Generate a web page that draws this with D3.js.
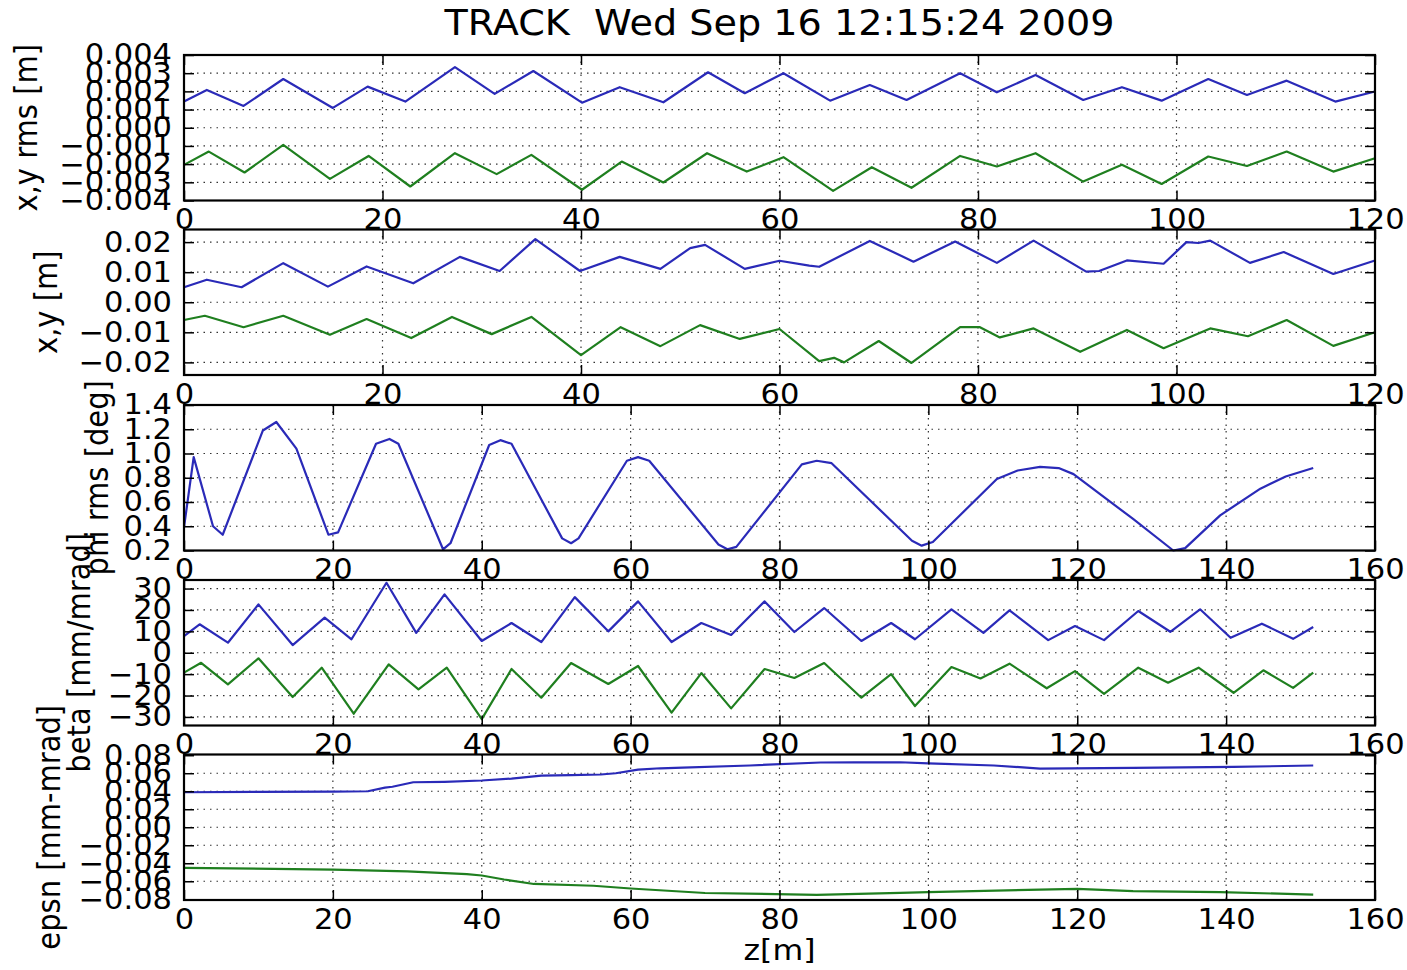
<!DOCTYPE html>
<html lang="en">
<head>
<meta charset="utf-8">
<script src="https://d3js.org/d3.v7.min.js"></script>
<style>
  body { margin: 0; background: #fff; }
  text { font-family: "DejaVu Sans", sans-serif; fill: #000; }
</style>
</head>
<body>
<script>
// ---- data ----
// panel 1: x,y rms [m]
var rmsXz = [0,2.3,6,10,15,18.5,22.3,27.3,31.3,35.2,40.1,43.9,48.3,52.8,56.5,60.4,65.1,69.1,72.8,78.2,81.9,85.8,90.6,94.5,98.5,103.2,107.1,111.1,116,120];
var rmsX = [1.44,2.08,1.2,2.68,1.09,2.26,1.44,3.33,1.86,3.12,1.38,2.23,1.4,3.05,1.9,3.0,1.49,2.35,1.53,3.0,1.95,2.9,1.53,2.23,1.49,2.68,1.8,2.59,1.44,1.99].map(function(v){ return v*1e-3; });
var rmsYz = [0,2.5,6.1,10,14.7,18.6,22.8,27.3,31.5,35,40.1,44.1,48.3,52.7,56.7,60.4,65.4,69.3,73.3,78.2,81.9,85.8,90.6,94.5,98.5,103.2,107.1,111.1,115.8,120];
var rmsY = [-2.04,-1.31,-2.46,-0.94,-2.81,-1.55,-3.23,-1.4,-2.55,-1.49,-3.41,-1.86,-3.01,-1.4,-2.41,-1.62,-3.47,-2.17,-3.3,-1.55,-2.13,-1.4,-2.96,-2.04,-3.09,-1.58,-2.1,-1.31,-2.41,-1.68].map(function(v){ return v*1e-3; });

// panel 2: x,y [m]
var cenXz = [0,2.3,5.8,10,14.5,18.4,23.1,27.8,31.8,35.4,39.9,43.9,48,51,52.5,56.5,60,63,64,69.1,73.5,77.7,81.9,85.6,90.9,92.2,95,98.7,101,102.2,103.4,107.4,110.8,115.8,120];
var cenX = [0.50,0.75,0.50,1.30,0.52,1.19,0.63,1.51,1.04,2.1,1.04,1.51,1.11,1.80,1.91,1.11,1.38,1.22,1.18,2.04,1.35,2.02,1.31,2.05,1.02,1.04,1.39,1.28,2.0,1.97,2.05,1.31,1.67,0.94,1.39].map(function(v){ return v*1e-2; });
var cenYz = [0,2.1,6,10,14.7,18.4,22.9,27,31,35,40,44,48,52,56,60,64,65.5,66.5,70,73.3,78.2,80.2,82.2,85.6,90.3,95,98.7,103.4,107.2,111.1,115.8,120];
var cenY = [-0.59,-0.45,-0.83,-0.45,-1.08,-0.56,-1.19,-0.49,-1.06,-0.49,-1.76,-0.83,-1.46,-0.76,-1.22,-0.89,-1.96,-1.85,-2.0,-1.29,-2.02,-0.83,-0.83,-1.17,-0.87,-1.65,-0.92,-1.53,-0.87,-1.13,-0.59,-1.45,-1.0].map(function(v){ return v*1e-2; });

// panel 3: phi rms [deg]
var phiZ = [0,1.3,3.9,5.2,10.6,12.4,15.1,19.4,20.7,25.8,27.6,28.8,34.8,35.8,41,42.5,44,50.8,52,53,59.5,61,62.5,71.8,73,74.2,83,85,87,97.8,99.1,100.6,109.2,112,115,117.5,119.5,127.5,132.9,134.5,139.2,144.6,148,151.7];
var phi = [0.39,0.97,0.40,0.33,1.19,1.26,1.04,0.33,0.35,1.08,1.12,1.08,0.21,0.26,1.07,1.11,1.08,0.3,0.26,0.3,0.94,0.97,0.94,0.25,0.21,0.23,0.91,0.94,0.92,0.28,0.24,0.27,0.79,0.86,0.89,0.88,0.83,0.46,0.2,0.22,0.49,0.71,0.81,0.88];

// panel 4: beta [mm/mrad]
var betXz = [0,2.1,5.9,10,14.6,18.9,22.5,27.2,31.2,35,40,44,48,52.5,57,61,65.5,69.5,73.5,78,82,86,91,95,98.2,103.1,107.4,110.9,116.1,119.7,123.6,128.2,132.5,136.5,140.6,144.8,149,151.7];
var betX = [7.8,13.3,4.7,22.6,3.6,16.4,6.3,32.7,9.3,27.3,5.5,13.9,5,26,10,24,5,13.9,8.3,24,9.7,20.9,5.5,13.9,6.3,20.3,9.3,19.8,5.9,12.5,5.9,19.5,9.8,20.3,7,13.6,6.5,12];
var betYz = [0,2.3,5.9,10,14.6,18.5,22.8,27.5,31.5,35.3,40,44,48,52,57,61,65.5,69.5,73.5,78,82,86,91,95,98.2,103.1,107,110.9,115.9,119.7,123.6,128.2,132.2,136.3,141,145,149,151.7];
var betY = [-9.3,-4.7,-14.8,-2.6,-20.7,-7,-28.5,-5.4,-17.1,-7,-31,-7.6,-21,-4.8,-14.6,-6.2,-28,-9.5,-26,-7.6,-11.8,-4.8,-21,-10,-24.9,-6.7,-12,-5.1,-16.6,-8.6,-19.2,-7,-14,-7,-18.7,-8.2,-16.4,-9.3];

// panel 5: epsn [mm-mrad]
var epsXz = [0,10,20,24.7,27,28,30.8,35,40,44,48,52,56,58,61,64,67,76,85.5,90,96.2,100,108.8,115,127.5,141,151.7];
var epsX = [3.89,3.92,3.95,4.0,4.4,4.5,5.0,5.05,5.19,5.4,5.74,5.8,5.86,6.0,6.4,6.55,6.63,6.86,7.19,7.2,7.22,7.1,6.86,6.52,6.6,6.7,6.86].map(function(v){ return v*1e-2; });
var epsYz = [0,20,30,38,40,43,47,55,60,70,85,96.2,100,115,120,127.5,139.2,151.7];
var epsY = [-4.51,-4.7,-4.9,-5.2,-5.36,-5.8,-6.3,-6.5,-6.8,-7.3,-7.5,-7.29,-7.2,-6.92,-6.85,-7.1,-7.2,-7.48].map(function(v){ return v*1e-2; });

var xTicks120 = [0,20,40,60,80,100,120];
var xTicks160 = [0,20,40,60,80,100,120,140,160];
var yTicks1 = [-0.004,-0.003,-0.002,-0.001,0,0.001,0.002,0.003,0.004];
var yTicks2 = [-0.02,-0.01,0,0.01,0.02];
var yTicks3 = [0.2,0.4,0.6,0.8,1.0,1.2,1.4];
var yTicks4 = [-30,-20,-10,0,10,20,30];
var yTicks5 = [-0.08,-0.06,-0.04,-0.02,0,0.02,0.04,0.06,0.08];

var title = "TRACK  Wed Sep 16 12:15:24 2009";
var blue = "#2a2ab8", green = "#1f7f1f";

// ---- layout ----
var W = 1407, H = 970;
var left = 184, right = 1375, ph = 145.5;
var sx = 1.09;   // picture is stretched sideways, so is the text
var minus = function(s){ return s.replace("-", "\u2212"); };

var svg = d3.select("body").append("svg")
    .attr("width", W).attr("height", H);

svg.append("text")
    .attr("transform", "translate(" + ((left+right)/2) + ",35) scale(" + sx + ",1)")
    .attr("text-anchor", "middle")
    .style("font-size", "35px")
    .style("white-space", "pre")
    .text(title);

var panels = [
  {top: 55,    xmax: 120, xt: xTicks120, dom: [-0.004, 0.004], yt: yTicks1, fmt: d3.format(".3f"),
   label: "x,y rms [m]", lx: 37, series: [[rmsXz, rmsX, blue], [rmsYz, rmsY, green]]},
  {top: 229.5, xmax: 120, xt: xTicks120, dom: [-0.0242, 0.0242], yt: yTicks2, fmt: d3.format(".2f"),
   label: "x,y [m]", lx: 57, series: [[cenXz, cenX, blue], [cenYz, cenY, green]]},
  {top: 405,   xmax: 160, xt: xTicks160, dom: [0.2, 1.4], yt: yTicks3, fmt: d3.format(".1f"),
   label: "phi rms [deg]", lx: 108, series: [[phiZ, phi, blue]]},
  {top: 580,   xmax: 160, xt: xTicks160, dom: [-34, 34], yt: yTicks4, fmt: d3.format("d"),
   label: "beta [mm/mrad]", lx: 90, series: [[betXz, betX, blue], [betYz, betY, green]]},
  {top: 754.5, xmax: 160, xt: xTicks160, dom: [-0.0808, 0.0808], yt: yTicks5, fmt: d3.format(".2f"),
   label: "epsn [mm-mrad]", lx: 60, series: [[epsXz, epsX, blue], [epsYz, epsY, green]]}
];

panels.forEach(function(p) {
  var x = d3.scaleLinear().domain([0, p.xmax]).range([left, right]);
  var y = d3.scaleLinear().domain(p.dom).range([p.top + ph, p.top]);
  var g = svg.append("g");

  // dotted grid
  g.append("g").selectAll("line").data(p.xt.slice(1, -1)).join("line")
      .attr("x1", function(d){ return x(d); }).attr("x2", function(d){ return x(d); })
      .attr("y1", p.top).attr("y2", p.top + ph)
      .attr("stroke", "#333").attr("stroke-width", 1.2).attr("stroke-dasharray", "1.5,5");
  g.append("g").selectAll("line").data(p.yt.filter(function(d){ return y(d) > p.top + 1 && y(d) < p.top + ph - 1; })).join("line")
      .attr("x1", left).attr("x2", right)
      .attr("y1", function(d){ return y(d); }).attr("y2", function(d){ return y(d); })
      .attr("stroke", "#333").attr("stroke-width", 1.2).attr("stroke-dasharray", "1.5,5");

  // data lines
  p.series.forEach(function(s) {
    var pts = s[0].map(function(z, i){ return [z, s[1][i]]; });
    var line = d3.line()
        .x(function(d){ return x(d[0]); })
        .y(function(d){ return y(d[1]); });
    g.append("path").datum(pts)
        .attr("d", line)
        .attr("fill", "none")
        .attr("stroke", s[2])
        .attr("stroke-width", 2.2)
        .attr("stroke-linejoin", "round");
  });

  // axes: inward ticks on all four sides
  var ax = g.append("g").attr("transform", "translate(0," + (p.top + ph) + ")")
      .call(d3.axisBottom(x).tickValues(p.xt).tickSizeInner(-10).tickSizeOuter(0).tickPadding(9));
  var ay = g.append("g").attr("transform", "translate(" + left + ",0)")
      .call(d3.axisLeft(y).tickValues(p.yt).tickSizeInner(-10).tickSizeOuter(0).tickPadding(11)
        .tickFormat(function(d){ return minus(p.fmt(d)); }));
  g.append("g").attr("transform", "translate(" + right + ",0)")
      .call(d3.axisRight(y).tickValues(p.yt).tickSizeInner(-10).tickSizeOuter(0).tickFormat(""));
  g.append("g").attr("transform", "translate(0," + p.top + ")")
      .call(d3.axisTop(x).tickValues(p.xt).tickSizeInner(-10).tickSizeOuter(0).tickFormat(""));
  g.selectAll(".domain").remove();
  g.selectAll(".tick line").attr("stroke", "#000").attr("stroke-width", 1.5);
  [ax, ay].forEach(function(a) {
    a.selectAll("text")
      .attr("fill", "#000")
      .style("font-family", "DejaVu Sans")
      .style("font-size", "28px")
      .attr("transform", "scale(" + sx + ",1)");
  });

  // frame
  g.append("rect")
      .attr("x", left).attr("y", p.top)
      .attr("width", right - left).attr("height", ph)
      .attr("fill", "none").attr("stroke", "#000").attr("stroke-width", 2.2);

  // y label
  g.append("text")
      .attr("transform", "translate(" + p.lx + "," + (p.top + ph/2) + ") scale(" + sx + ",1) rotate(-90)")
      .attr("text-anchor", "middle")
      .style("font-size", "29px")
      .text(p.label);
});

svg.append("text")
    .attr("transform", "translate(" + ((left+right)/2) + ",960) scale(" + sx + ",1)")
    .attr("text-anchor", "middle")
    .style("font-size", "29px")
    .text("z[m]");
</script>
</body>
</html>
